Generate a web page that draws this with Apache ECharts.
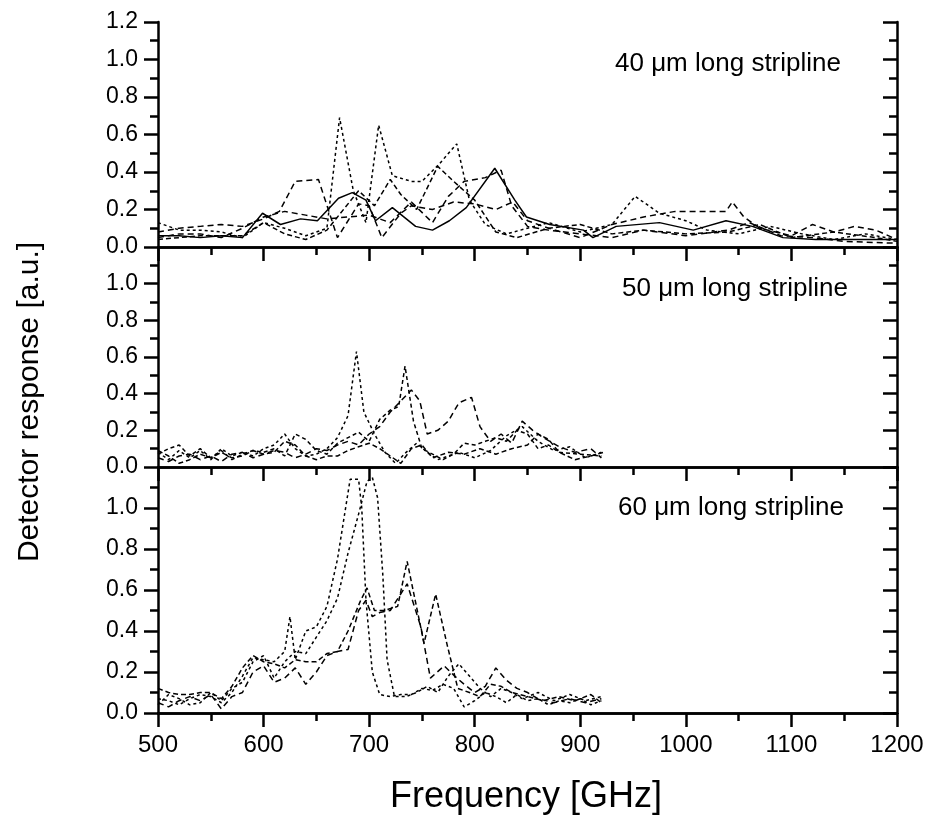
<!DOCTYPE html>
<html>
<head>
<meta charset="utf-8">
<script src="https://cdn.jsdelivr.net/npm/echarts@6/dist/echarts.min.js"></script>
<style>
  html, body { margin: 0; padding: 0; background: #fff; }
  #chart { width: 927px; height: 816px; }
</style>
</head>
<body>
<div id="chart"></div>
<script>
// panel 1: 40 um stripline, [frequency GHz, response]
const p40Solid = [[500,0.06],[520,0.06],[540,0.05],[560,0.06],[580,0.05],[599,0.18],[616,0.12],[635,0.15],[651,0.14],[671,0.26],[684,0.29],[697,0.25],[706,0.14],[722,0.21],[744,0.11],[760,0.09],[776,0.14],[792,0.21],[819,0.42],[838,0.25],[849,0.16],[871,0.12],[903,0.09],[912,0.05],[934,0.11],[975,0.13],[1007,0.09],[1038,0.14],[1063,0.11],[1092,0.05],[1123,0.04],[1155,0.04],[1200,0.04]];
const p40A = [[500,0.13],[520,0.09],[540,0.09],[560,0.08],[580,0.05],[600,0.13],[620,0.10],[640,0.06],[660,0.10],[672,0.69],[685,0.30],[697,0.13],[709,0.65],[722,0.38],[740,0.35],[750,0.35],[766,0.44],[783,0.55],[795,0.25],[810,0.12],[830,0.07],[850,0.10],[870,0.13],[900,0.08],[930,0.12],[952,0.27],[975,0.18],[1000,0.14],[1020,0.09],[1050,0.07],[1080,0.11],[1110,0.07],[1140,0.04],[1170,0.07],[1200,0.04]];
const p40B = [[500,0.08],[520,0.10],[540,0.11],[560,0.12],[580,0.11],[600,0.15],[615,0.19],[630,0.35],[652,0.36],[670,0.05],[690,0.23],[700,0.22],[712,0.05],[730,0.18],[740,0.22],[760,0.20],[780,0.24],[800,0.23],[820,0.20],[836,0.24],[850,0.14],[870,0.10],[900,0.05],[930,0.12],[960,0.16],[990,0.19],[1038,0.19],[1044,0.24],[1055,0.16],[1070,0.10],[1100,0.06],[1120,0.12],[1140,0.08],[1160,0.11],[1180,0.09],[1200,0.04]];
const p40C = [[500,0.04],[520,0.05],[540,0.06],[560,0.06],[580,0.06],[600,0.13],[620,0.07],[640,0.04],[660,0.09],[690,0.30],[705,0.22],[720,0.36],[730,0.28],[745,0.20],[765,0.43],[780,0.35],[800,0.25],[820,0.08],[840,0.05],[870,0.10],[900,0.12],[930,0.07],[960,0.09],[1000,0.07],[1040,0.08],[1070,0.12],[1100,0.05],[1140,0.08],[1180,0.05],[1200,0.03]];
const p40D = [[500,0.05],[520,0.07],[540,0.07],[560,0.05],[580,0.10],[600,0.16],[620,0.19],[640,0.17],[660,0.15],[680,0.16],[700,0.17],[720,0.13],[740,0.24],[760,0.13],[775,0.27],[790,0.35],[810,0.37],[825,0.41],[835,0.22],[850,0.11],[870,0.09],[900,0.07],[930,0.05],[960,0.09],[1000,0.06],[1040,0.09],[1060,0.13],[1090,0.06],[1120,0.05],[1150,0.03],[1200,0.02]];

// panel 2: 50 um stripline
const p50A = [[500,0.08],[510,0.04],[520,0.09],[530,0.05],[540,0.09],[550,0.04],[560,0.10],[570,0.06],[580,0.08],[590,0.06],[600,0.10],[610,0.12],[620,0.18],[630,0.10],[640,0.06],[650,0.07],[660,0.10],[670,0.16],[680,0.28],[688,0.63],[695,0.30],[705,0.18],[715,0.08],[725,0.02],[735,0.08],[745,0.13],[755,0.08],[765,0.04],[775,0.06],[785,0.08],[800,0.05],[815,0.09],[830,0.17],[845,0.22],[860,0.14],[875,0.09],[890,0.11],[905,0.05],[920,0.08]];
const p50B = [[500,0.07],[510,0.10],[520,0.12],[530,0.06],[540,0.10],[550,0.05],[560,0.09],[570,0.04],[580,0.07],[590,0.09],[600,0.08],[610,0.10],[620,0.06],[630,0.18],[640,0.15],[650,0.09],[660,0.07],[670,0.13],[680,0.16],[690,0.19],[700,0.14],[710,0.26],[720,0.31],[728,0.33],[734,0.55],[742,0.25],[750,0.10],[760,0.07],[770,0.04],[780,0.07],[790,0.13],[800,0.12],[810,0.14],[820,0.16],[830,0.14],[840,0.20],[850,0.18],[860,0.10],[870,0.12],[880,0.08],[900,0.07],[920,0.06]];
const p50C = [[500,0.05],[510,0.03],[520,0.06],[530,0.07],[540,0.04],[550,0.06],[560,0.03],[570,0.07],[580,0.08],[590,0.05],[600,0.07],[610,0.09],[620,0.08],[630,0.05],[640,0.07],[650,0.10],[660,0.09],[670,0.12],[680,0.14],[690,0.12],[700,0.18],[710,0.22],[720,0.30],[730,0.36],[740,0.42],[748,0.36],[755,0.18],[765,0.20],[775,0.25],[785,0.35],[797,0.38],[805,0.22],[815,0.14],[825,0.18],[835,0.13],[845,0.25],[855,0.20],[865,0.16],[880,0.11],[895,0.08],[910,0.10],[920,0.05]];
const p50D = [[500,0.09],[510,0.06],[520,0.02],[530,0.04],[540,0.07],[550,0.05],[560,0.08],[570,0.05],[580,0.06],[590,0.09],[600,0.07],[610,0.08],[620,0.14],[630,0.12],[640,0.06],[650,0.04],[660,0.06],[670,0.06],[680,0.09],[690,0.11],[700,0.13],[710,0.10],[720,0.06],[730,0.02],[740,0.10],[750,0.12],[760,0.05],[775,0.08],[790,0.07],[805,0.10],[820,0.07],[835,0.10],[850,0.12],[860,0.18],[870,0.15],[880,0.08],[895,0.04],[910,0.06],[922,0.08]];

// panel 3: 60 um stripline
const p60A = [[500,0.07],[510,0.06],[520,0.04],[530,0.07],[540,0.09],[550,0.08],[560,0.05],[570,0.10],[580,0.18],[590,0.27],[600,0.26],[610,0.25],[620,0.30],[625,0.47],[630,0.26],[640,0.40],[650,0.42],[660,0.52],[670,0.75],[682,1.14],[690,1.14],[693,1.00],[697,0.55],[703,0.20],[710,0.09],[720,0.08],[730,0.09],[740,0.09],[750,0.12],[760,0.11],[770,0.14],[780,0.12],[790,0.03],[800,0.06],[810,0.10],[820,0.08],[830,0.05],[840,0.09],[850,0.06],[860,0.07],[870,0.04],[880,0.06],[890,0.05],[900,0.07],[910,0.04],[920,0.06]];
const p60B = [[500,0.04],[510,0.09],[520,0.07],[530,0.04],[540,0.05],[550,0.10],[560,0.06],[570,0.12],[580,0.15],[590,0.25],[600,0.28],[610,0.17],[620,0.25],[630,0.30],[640,0.29],[650,0.37],[660,0.45],[670,0.56],[680,0.78],[690,0.97],[698,1.13],[703,1.15],[708,1.05],[713,0.67],[717,0.26],[724,0.08],[735,0.08],[745,0.10],[755,0.13],[765,0.10],[775,0.18],[785,0.24],[795,0.18],[805,0.12],[815,0.08],[825,0.12],[835,0.10],[845,0.07],[860,0.10],[875,0.06],[890,0.09],[905,0.06],[920,0.08]];
const p60C = [[500,0.12],[510,0.10],[520,0.09],[530,0.09],[540,0.10],[550,0.10],[560,0.07],[570,0.13],[580,0.22],[590,0.28],[600,0.25],[610,0.24],[620,0.22],[630,0.26],[640,0.25],[650,0.25],[660,0.29],[670,0.30],[680,0.40],[692,0.55],[698,0.61],[705,0.50],[714,0.50],[727,0.52],[736,0.74],[752,0.34],[763,0.58],[774,0.33],[784,0.12],[795,0.10],[805,0.08],[815,0.14],[825,0.13],[835,0.10],[850,0.08],[865,0.06],[880,0.08],[895,0.06],[910,0.09],[920,0.05]];
const p60D = [[500,0.05],[510,0.03],[520,0.06],[530,0.08],[540,0.06],[550,0.09],[560,0.02],[570,0.08],[580,0.10],[590,0.20],[600,0.23],[610,0.15],[620,0.17],[630,0.22],[640,0.14],[650,0.20],[660,0.28],[670,0.30],[680,0.31],[690,0.50],[697,0.55],[703,0.47],[710,0.49],[720,0.50],[736,0.63],[749,0.42],[758,0.17],[771,0.23],[781,0.18],[790,0.14],[800,0.10],[810,0.13],[820,0.22],[830,0.16],[840,0.12],[850,0.10],[860,0.07],[875,0.05],[890,0.07],[905,0.05],[920,0.07]];

const panelLabels = ["40 μm long stripline", "50 μm long stripline", "60 μm long stripline"];

const FONT = "Liberation Sans, Arial, sans-serif";
const grids = [
  { left: 158, right: 30, top: 22, height: 225 },
  { left: 158, right: 30, top: 247, height: 220 },
  { left: 158, right: 30, top: 467, height: 246 }
];

const line = { lineStyle: { color: "#000", width: 2.5 } };
const tickStyle = { color: "#000", width: 2.5 };
const xAxes = [];
const yAxes = [];
grids.forEach((g, i) => {
  const last = i === grids.length - 1;
  xAxes.push({
    type: "value", gridIndex: i, min: 500, max: 1200, interval: 100, position: "bottom",
    axisLine: line, splitLine: { show: false },
    axisTick: { show: last, length: 14, lineStyle: tickStyle },
    minorTick: { show: last, splitNumber: 2, length: 8, lineStyle: tickStyle },
    axisLabel: { show: last, color: "#000", fontFamily: FONT, fontSize: 24, margin: 20, formatter: (v) => String(v) }
  });
  xAxes.push({
    type: "value", gridIndex: i, min: 500, max: 1200, interval: 100, position: "top",
    axisLine: line, splitLine: { show: false },
    axisTick: { inside: true, length: 14, lineStyle: tickStyle },
    minorTick: { show: true, splitNumber: 2, length: 8, lineStyle: tickStyle },
    axisLabel: { show: false }
  });
  yAxes.push({
    type: "value", gridIndex: i, min: 0, max: 1.2, interval: 0.2, position: "left",
    axisLine: line, splitLine: { show: false },
    axisTick: { length: 14, lineStyle: tickStyle },
    minorTick: { show: true, splitNumber: 2, length: 8, lineStyle: tickStyle },
    axisLabel: {
      color: "#000", fontFamily: FONT, fontSize: 23, margin: 20,
      showMaxLabel: i === 0,
      formatter: (v) => v.toFixed(1)
    }
  });
  yAxes.push({
    type: "value", gridIndex: i, min: 0, max: 1.2, interval: 0.2, position: "right",
    axisLine: line, splitLine: { show: false },
    axisTick: { inside: true, length: 14, lineStyle: tickStyle },
    minorTick: { show: true, splitNumber: 2, length: 8, lineStyle: tickStyle },
    axisLabel: { show: false }
  });
});

function curve(data, panel, dash) {
  return {
    type: "line", data: data, xAxisIndex: panel * 2, yAxisIndex: panel * 2,
    showSymbol: false, silent: true,
    lineStyle: { color: "#000", width: 1.5, type: dash }
  };
}

const series = [
  curve(p40Solid, 0, "solid"),
  curve(p40A, 0, [3, 3]),
  curve(p40B, 0, [6, 4]),
  curve(p40C, 0, [5, 3]),
  curve(p40D, 0, [6, 4]),
  curve(p50A, 1, [3, 3]),
  curve(p50B, 1, [4, 3]),
  curve(p50C, 1, [6, 4]),
  curve(p50D, 1, [5, 3]),
  curve(p60A, 2, [3, 3]),
  curve(p60B, 2, [3, 3]),
  curve(p60C, 2, [5, 3]),
  curve(p60D, 2, [6, 4])
];

const labelPos = [[615, 65], [622, 290], [618, 509]];
const graphics = panelLabels.map((t, i) => ({
  type: "text", left: labelPos[i][0], top: labelPos[i][1] - 14,
  style: { text: t, fill: "#000", font: "26px " + FONT }
}));
graphics.push({
  type: "text", x: 30, y: 402, rotation: Math.PI / 2,
  style: { text: "Detector response [a.u.]", fill: "#000", font: "30px " + FONT, align: "center", verticalAlign: "middle" }
});
graphics.push({
  type: "text", x: 526, y: 797,
  style: { text: "Frequency [GHz]", fill: "#000", font: "36px " + FONT, align: "center", verticalAlign: "middle" }
});

const chart = echarts.init(document.getElementById("chart"), null, { renderer: "canvas" });
chart.setOption({
  backgroundColor: "#fff",
  animation: false,
  grid: grids,
  xAxis: xAxes,
  yAxis: yAxes,
  series: series,
  graphic: graphics
});
</script>
</body>
</html>
